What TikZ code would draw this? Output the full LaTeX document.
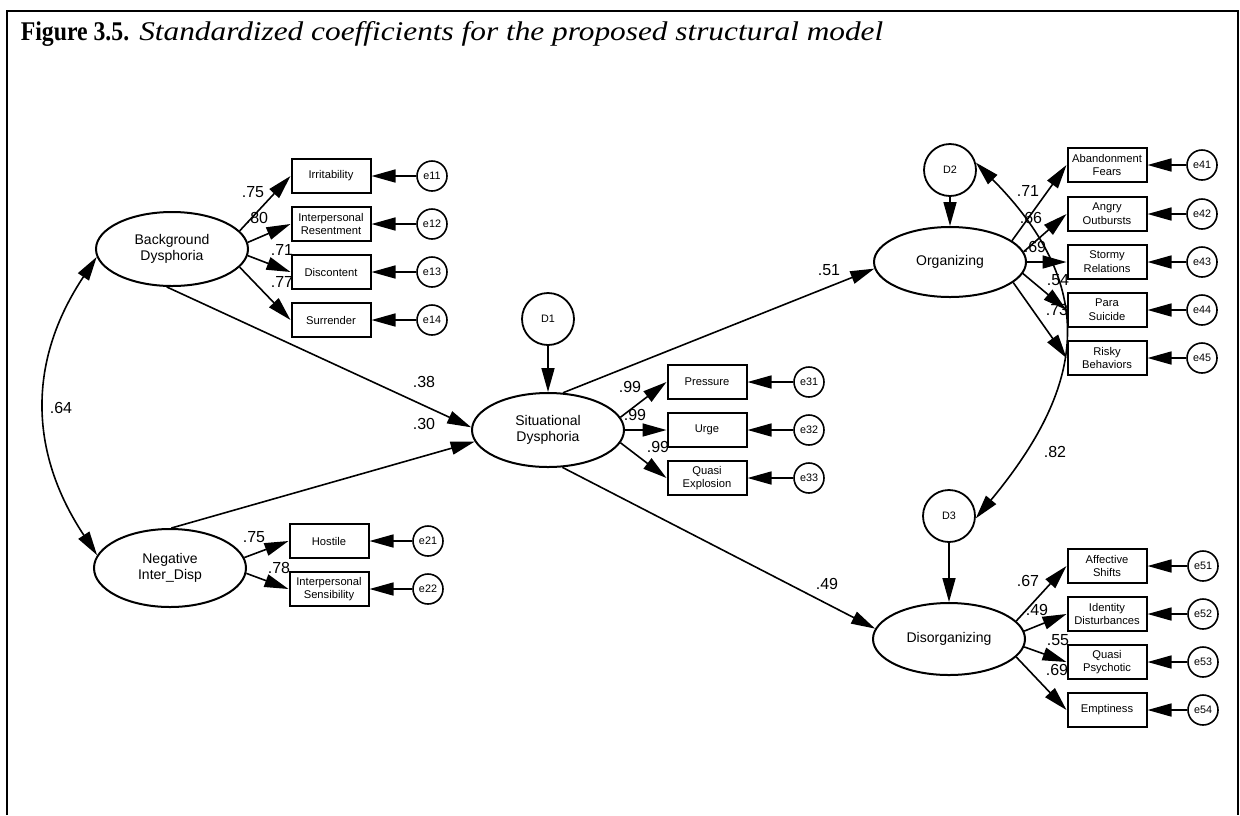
\documentclass[tikz,border=0pt]{standalone}
\usepackage{fontspec}
\setmainfont{Liberation Sans}
\newfontfamily\titlefont[FakeStretch=0.88]{Liberation Serif}
\newfontfamily\titleitfont[FakeStretch=1.16]{Liberation Serif}
\usetikzlibrary{shapes.geometric,arrows.meta}

\tikzset{every picture/.style={line width=0.8pt}}
\tikzset{
  latent/.style={ellipse,draw,line width=1pt,minimum width=76pt,minimum height=37pt,inner sep=0pt,align=center,font=\fontsize{7}{8.2}\selectfont},
  observed/.style={rectangle,draw,line width=1pt,minimum width=39.5pt,minimum height=17pt,inner sep=0pt,align=center,font=\fontsize{5.6}{6.9}\selectfont},
  errvar/.style={circle,draw,line width=0.8pt,minimum size=15pt,inner sep=0pt,font=\fontsize{5.4}{6}\selectfont},
  disturb/.style={circle,draw,line width=0.9pt,minimum size=26pt,inner sep=0pt,font=\fontsize{5.4}{6}\selectfont},
  coef/.style={inner sep=0pt,font=\fontsize{8}{9}\selectfont},
  regpath/.style={-{Triangle[length=12pt,width=6.5pt]},line width=0.8pt},
  covpath/.style={{Triangle[length=12pt,width=6.5pt]}-{Triangle[length=12pt,width=6.5pt]},line width=0.8pt}
}

\begin{document}
\begin{tikzpicture}[x=0.5pt,y=0.5pt,yscale=-1,xscale=1]
\useasboundingbox (0,0) rectangle (1240,815);

%Frame
\draw [line width=1.1pt] (7,815) -- (7,11) -- (1238,11) -- (1238,815);
% Text Node
\node (title) [anchor=base west,inner sep=0pt] at (20,40) {\fontsize{13.5}{16}\selectfont{\titlefont\bfseries Figure 3.5.} {\titleitfont\itshape Standardized coefficients for the proposed structural model}};

%Latent variables
\node (backdys) [latent] at (172,249) {Background\\Dysphoria};
\node (negint) [latent,minimum height=39pt] at (170,568) {Negative\\Inter\_Disp};
\node (sitdys) [latent] at (548,430) {Situational\\Dysphoria};
\node (organ) [latent,minimum height=35pt] at (950,262) {Organizing};
\node (disorg) [latent,minimum height=36pt] at (949,639) {Disorganizing};

%Disturbances
\node (d1) [disturb] at (548,319) {D1};
\node (d2) [disturb] at (950,170) {D2};
\node (d3) [disturb] at (949,516) {D3};

%Indicators: Background Dysphoria
\node (irrit) [observed] at (331,176) {Irritability};
\node (resent) [observed] at (331,224) {Interpersonal\\Resentment};
\node (discont) [observed] at (331,272) {Discontent};
\node (surr) [observed] at (331,320) {Surrender};
\node (e11) [errvar] at (432,176) {e11};
\node (e12) [errvar] at (432,224) {e12};
\node (e13) [errvar] at (432,272) {e13};
\node (e14) [errvar] at (432,320) {e14};

%Indicators: Negative Inter_Disp
\node (host) [observed] at (329,541) {Hostile};
\node (sensib) [observed] at (329,589) {Interpersonal\\Sensibility};
\node (e21) [errvar] at (428,541) {e21};
\node (e22) [errvar] at (428,589) {e22};

%Indicators: Situational Dysphoria
\node (press) [observed] at (707,382) {Pressure};
\node (urge) [observed] at (707,430) {Urge};
\node (qexpl) [observed] at (707,478) {Quasi\\Explosion};
\node (e31) [errvar] at (809,382) {e31};
\node (e32) [errvar] at (809,430) {e32};
\node (e33) [errvar] at (809,478) {e33};

%Indicators: Organizing
\node (aband) [observed] at (1107,165) {Abandonment\\Fears};
\node (angry) [observed] at (1107,214) {Angry\\Outbursts};
\node (stormy) [observed] at (1107,262) {Stormy\\Relations};
\node (para) [observed] at (1107,310) {Para\\Suicide};
\node (risky) [observed] at (1107,358) {Risky\\Behaviors};
\node (e41) [errvar] at (1202,165) {e41};
\node (e42) [errvar] at (1202,214) {e42};
\node (e43) [errvar] at (1202,262) {e43};
\node (e44) [errvar] at (1202,310) {e44};
\node (e45) [errvar] at (1202,358) {e45};

%Indicators: Disorganizing
\node (affect) [observed] at (1107,566) {Affective\\Shifts};
\node (ident) [observed] at (1107,614) {Identity\\Disturbances};
\node (qpsych) [observed] at (1107,662) {Quasi\\Psychotic};
\node (empt) [observed] at (1107,710) {Emptiness};
\node (e51) [errvar] at (1203,566) {e51};
\node (e52) [errvar] at (1203,614) {e52};
\node (e53) [errvar] at (1203,662) {e53};
\node (e54) [errvar] at (1203,710) {e54};

%Coefficients
\node (c64) [coef] at (61,408) {.64};
\node (cirrit) [coef] at (253,192) {.75};
\node (cresent) [coef] at (257,218) {.80};
\node (cdiscont) [coef] at (282,250) {.71};
\node (csurr) [coef] at (282,282) {.77};
\node (chost) [coef] at (254,537) {.75};
\node (csensib) [coef] at (279,568) {.78};
\node (cbg) [coef] at (424,382) {.38};
\node (cneg) [coef] at (424,424) {.30};
\node (cpress) [coef] at (630,387) {.99};
\node (curge) [coef] at (635,415) {.99};
\node (cqexpl) [coef] at (658,447) {.99};
\node (corgan) [coef] at (829,270) {.51};
\node (cdisorg) [coef] at (827,584) {.49};
\node (caband) [coef] at (1028,191) {.71};
\node (cangry) [coef] at (1031,218) {.66};
\node (cstormy) [coef] at (1035,247) {.69};
\node (cpara) [coef] at (1058,280) {.54};
\node (crisky) [coef] at (1057,310) {.73};
\node (c82) [coef] at (1055,452) {.82};
\node (caffect) [coef] at (1028,581) {.67};
\node (cident) [coef] at (1037,610) {.49};
\node (cqpsych) [coef] at (1058,640) {.55};
\node (cempt) [coef] at (1057,670) {.69};

%Loadings
\draw [regpath] (backdys.15) -- (irrit.west);
\draw [regpath] (backdys.5) -- (resent.west);
\draw [regpath] (backdys.-5) -- (discont.west);
\draw [regpath] (backdys.-15) -- (surr.west);
\draw [regpath] (negint.8) -- (host.west);
\draw [regpath] (negint.-4) -- (sensib.west);
\draw [regpath] (sitdys.10) -- (press.west);
\draw [regpath] (sitdys.0) -- (urge.west);
\draw [regpath] (sitdys.-10) -- (qexpl.west);
\draw [regpath] (organ.19) -- (aband.west);
\draw [regpath] (organ.8) -- (angry.west);
\draw [regpath] (organ.0) -- (stormy.west);
\draw [regpath] (organ.-9) -- (para.west);
\draw [regpath] (organ.-18) -- (risky.west);
\draw [regpath] (disorg.15) -- (affect.west);
\draw [regpath] (disorg.6) -- (ident.west);
\draw [regpath] (disorg.-6) -- (qpsych.west);
\draw [regpath] (disorg.-15) -- (empt.west);

%Error terms
\foreach \e/\b in {e11/irrit,e12/resent,e13/discont,e14/surr,e21/host,e22/sensib,e31/press,e32/urge,e33/qexpl,e41/aband,e42/angry,e43/stormy,e44/para,e45/risky,e51/affect,e52/ident,e53/qpsych,e54/empt}
  \draw [regpath] (\e) -- (\b);

%Structural paths
\draw [regpath] (backdys.262) -- (sitdys.178);
\draw [regpath] (negint.88) -- (sitdys.189);
\draw [regpath] (sitdys.68) -- (organ.185);
\draw [regpath] (sitdys.291) -- (disorg.172);
\draw [regpath] (d1) -- (sitdys);
\draw [regpath] (d2) -- (organ);
\draw [regpath] (d3) -- (disorg);

%Covariances
\draw [covpath] (backdys.186) .. controls (28,360) and (28,451) .. (negint.170);
\draw [covpath] (d2.16) .. controls (1103,291) and (1082,390) .. (d3.355);

\end{tikzpicture}
\end{document}
